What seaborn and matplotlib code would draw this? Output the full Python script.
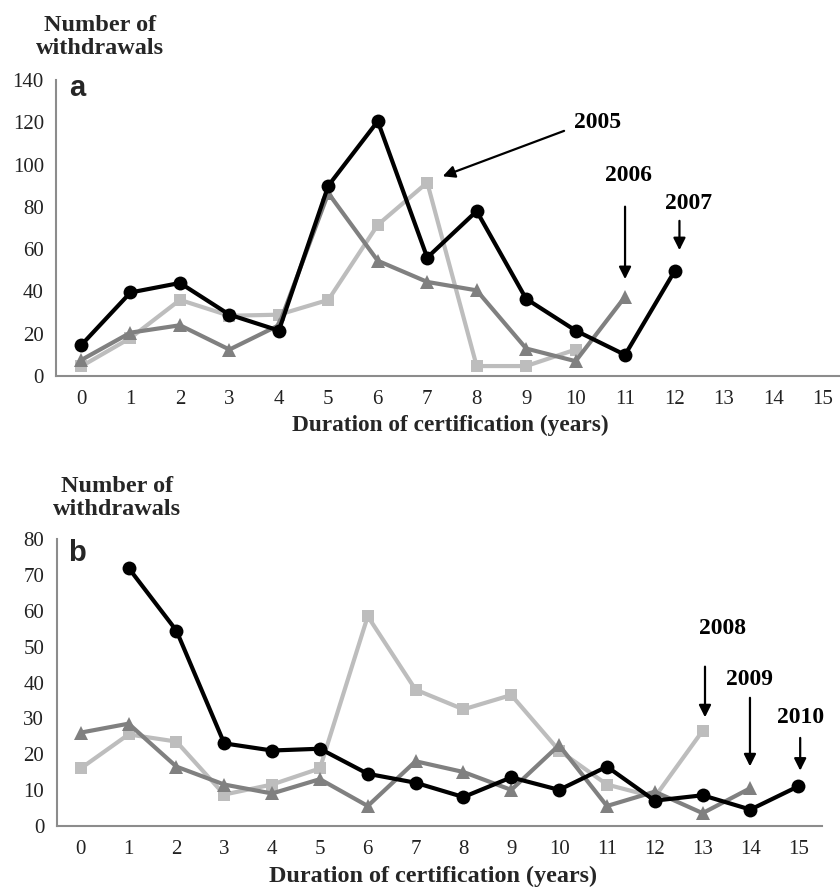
import numpy as np
import pandas as pd
import matplotlib
matplotlib.use("Agg")
import matplotlib.pyplot as plt
import seaborn as sns
from matplotlib.ticker import FixedLocator

sns.set_style("white")
plt.rcParams['font.family'] = ['Liberation Serif', 'DejaVu Serif']

# ---------------- data ----------------
years_a = ["2005", "2006", "2007"]
x_2005 = list(range(0, 11))
y_2005 = [4.5, 18, 36, 28.5, 29, 36, 71.5, 91.5, 4.7, 4.7, 12.5]
x_2006 = list(range(0, 12))
y_2006 = [7.5, 20.5, 24, 12.5, 24, 86.5, 54.5, 44.5, 40.5, 13, 7, 37.5]
x_2007 = list(range(0, 13))
y_2007 = [14.5, 39.5, 44, 29, 21.5, 90, 120.5, 56, 78, 36.5, 21.5, 10, 49.5]

years_b = ["2008", "2009", "2010"]
x_2008 = list(range(0, 14))
y_2008 = [16, 25.5, 23.5, 8.7, 11.5, 16, 58.5, 38, 32.5, 36.5, 21, 11.5, 8, 26.5]
x_2009 = list(range(0, 15))
y_2009 = [26, 28.5, 16.5, 11.5, 9, 13, 5.5, 18, 15, 10, 22.5, 5.5, 9.5, 3.5, 10.5]
x_2010 = list(range(1, 16))
y_2010 = [72, 54.5, 23, 21, 21.5, 14.5, 12, 8, 13.5, 10, 16.5, 7, 8.5, 4.5, 11]

xticks = list(range(0, 16))
yticks_a = list(range(0, 141, 20))
yticks_b = list(range(0, 81, 10))

LIGHT = "#bdbdbd"
MID = "#808080"
DARK = "#000000"
SPINE = "#8c8c8c"

W, H = 840, 889
fig = plt.figure(figsize=(W / 100, H / 100), dpi=100)

ax_a = fig.add_axes([56.3 / W, 1 - 376 / H, (847.6 - 56.3) / W, (376 - 80) / H])
ax_b = fig.add_axes([56.8 / W, 1 - 825.7 / H, (822.2 - 56.8) / W, (825.7 - 539.3) / H])


def draw_series(ax, xs, ys, color, marker, ms):
    df = pd.DataFrame({"x": xs, "y": ys})
    sns.lineplot(data=df, x="x", y="y", ax=ax, color=color, marker=marker,
                 markersize=ms, markeredgewidth=0, linewidth=3.0, legend=False)


def style_axis(ax, ymax, yticks):
    ax.set_xlim(-0.5, 15.5)
    ax.set_ylim(0, ymax)
    for s in ["top", "right"]:
        ax.spines[s].set_visible(False)
    for s in ["left", "bottom"]:
        ax.spines[s].set_color(SPINE)
        ax.spines[s].set_linewidth(1.5)
    ax.xaxis.set_major_locator(FixedLocator(xticks))
    ax.xaxis.set_minor_locator(FixedLocator([t - 0.5 for t in xticks] + [15.5]))
    ax.set_xticklabels([str(t) for t in xticks])
    ax.yaxis.set_major_locator(FixedLocator(yticks))
    ax.set_yticklabels([str(t) for t in yticks])
    ax.tick_params(axis="x", which="major", length=0, pad=10, labelsize=15, labelcolor="#222222")
    ax.tick_params(axis="x", which="minor", length=6, width=1.2, color=SPINE, direction="out")
    ax.tick_params(axis="y", which="major", length=5, width=1.2, color=SPINE, direction="out",
                   pad=4, labelsize=15, labelcolor="#222222")
    ax.set_xlabel("")
    ax.set_ylabel("")
    ax.grid(False)


# Panel a
draw_series(ax_a, x_2005, y_2005, LIGHT, "s", 9)
draw_series(ax_a, x_2006, y_2006, MID, "^", 10)
draw_series(ax_a, x_2007, y_2007, DARK, "o", 10)
style_axis(ax_a, 140, yticks_a)

# Panel b
draw_series(ax_b, x_2008, y_2008, LIGHT, "s", 9)
draw_series(ax_b, x_2009, y_2009, MID, "^", 10)
draw_series(ax_b, x_2010, y_2010, DARK, "o", 10)
style_axis(ax_b, 80, yticks_b)

arrow = dict(arrowstyle="-|>", color="black", lw=1.6, mutation_scale=18)
tkw = dict(fontsize=17, fontweight="bold", ha="center", va="center", color="black")

# annotations panel a
ax_a.annotate("", xy=(7.26, 94), xytext=(9.82, 116.4), arrowprops=arrow)
ax_a.text(10.45, 120, years_a[0], **tkw)
ax_a.annotate("", xy=(11.0, 44.5), xytext=(11.0, 81.4), arrowprops=arrow)
ax_a.text(11.06, 94.6, years_a[1], **tkw)
ax_a.annotate("", xy=(12.1, 58.2), xytext=(12.1, 74.7), arrowprops=arrow)
ax_a.text(12.29, 81.4, years_a[2], **tkw)

# annotations panel b
ax_b.annotate("", xy=(13.05, 29.5), xytext=(13.05, 45.2), arrowprops=arrow)
ax_b.text(13.42, 55.1, years_b[0], **tkw)
ax_b.annotate("", xy=(13.99, 15.8), xytext=(13.99, 36.5), arrowprops=arrow)
ax_b.text(13.99, 40.9, years_b[1], **tkw)
ax_b.annotate("", xy=(15.04, 14.6), xytext=(15.04, 25.3), arrowprops=arrow)
ax_b.text(15.04, 30.3, years_b[2], **tkw)

# panel letters
fig.text(77 / W, 1 - 88 / H, "a", family="Liberation Sans", fontsize=21, fontweight="bold",
         ha="center", va="center")
fig.text(77 / W, 1 - 553 / H, "b", family="Liberation Sans", fontsize=21, fontweight="bold",
         ha="center", va="center")

# y titles
ylab = "Number of\nwithdrawals"
fig.text(100 / W, 1 - 37 / H, ylab, fontsize=17.5, fontweight="bold", ha="center", va="center",
         linespacing=1.15)
fig.text(117 / W, 1 - 498 / H, ylab, fontsize=17.5, fontweight="bold", ha="center", va="center",
         linespacing=1.15)

# x labels
xlab = "Duration of certification (years)"
fig.text(450 / W, 1 - 425 / H, xlab, fontsize=16.8, fontweight="bold", ha="center", va="center")
fig.text(433 / W, 1 - 876 / H, xlab, fontsize=17.4, fontweight="bold", ha="center", va="center")

fig.savefig("out.png", dpi=100)
